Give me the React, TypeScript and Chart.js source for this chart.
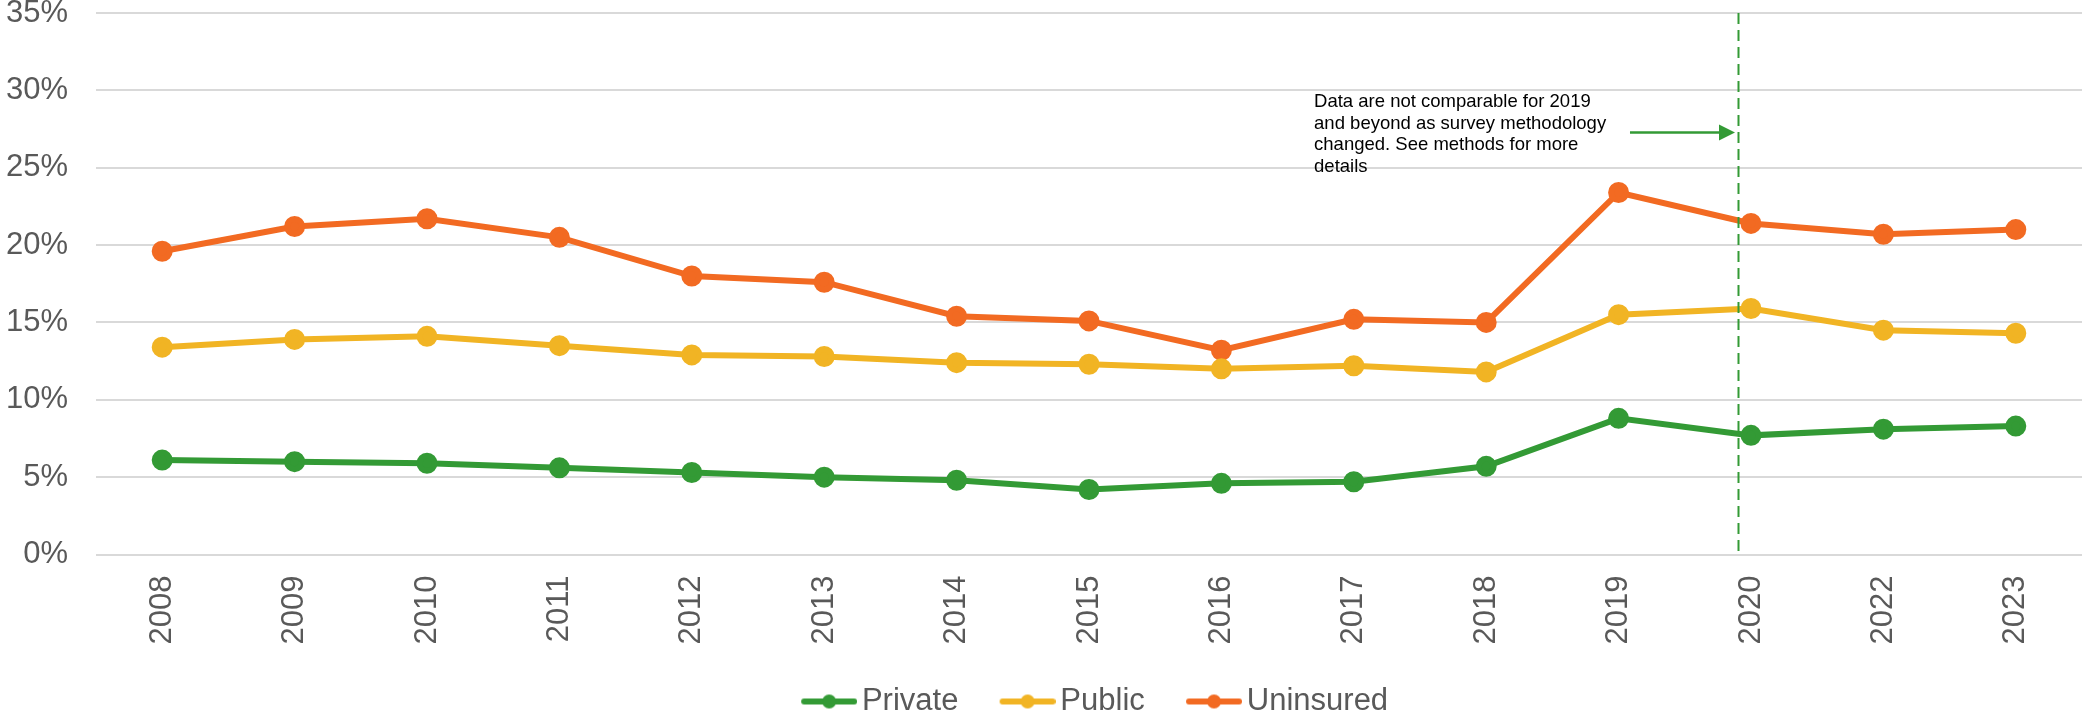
import React, { useEffect, useRef } from 'react';
import { Chart, registerables } from 'chart.js';

Chart.register(...registerables);

// ---------- data ----------
const years = ['2008', '2009', '2010', '2011', '2012', '2013', '2014', '2015', '2016', '2017', '2018', '2019', '2020', '2022', '2023'];
const privateRates = [6.1, 6.0, 5.9, 5.6, 5.3, 5.0, 4.8, 4.2, 4.6, 4.7, 5.7, 8.8, 7.7, 8.1, 8.3];
const publicRates = [13.4, 13.9, 14.1, 13.5, 12.9, 12.8, 12.4, 12.3, 12.0, 12.2, 11.8, 15.5, 15.9, 14.5, 14.3];
const uninsuredRates = [19.6, 21.2, 21.7, 20.5, 18.0, 17.6, 15.4, 15.1, 13.2, 15.2, 15.0, 23.4, 21.4, 20.7, 21.0];
const seriesNames = ['Private', 'Public', 'Uninsured'];
const seriesColors = ['#339A35', '#F1B424', '#F26A22'];
const yTickMin = 0;
const yTickMax = 35;
const yTickStep = 5;

// annotation (in category-index / percent units)
const noteLines = [
  'Data are not comparable for 2019',
  'and beyond as survey methodology',
  'changed. See methods for more',
  'details',
];
const noteX = 8.7;
const noteBaselines = [28.92, 27.53, 26.13, 24.74];
const breakX = 11.9;
const arrowFromX = 11.086;
const arrowToX = 11.879;
const arrowY = 27.28;

const FONT = '"Liberation Sans", Arial, Helvetica, sans-serif';
const GREY = '#595959';

function makeLegendMarker(color: string): HTMLCanvasElement {
  const c = document.createElement('canvas');
  c.width = 98;
  c.height = 18;
  const ctx = c.getContext('2d')!;
  ctx.strokeStyle = color;
  ctx.lineWidth = 6;
  ctx.lineCap = 'round';
  ctx.beginPath();
  ctx.moveTo(45, 9);
  ctx.lineTo(95, 9);
  ctx.stroke();
  ctx.fillStyle = color;
  ctx.beginPath();
  ctx.arc(70, 9, 7, 0, Math.PI * 2);
  ctx.fill();
  return c;
}

const annotationPlugin = {
  id: 'noteAnnotation',
  afterLayout(chart: any) {
    const lg = chart.legend;
    if (lg) {
      lg.left += 38;
      lg.right += 38;
      lg.top += 11;
      lg.bottom += 11;
    }
  },
  afterDatasetsDraw(chart: any) {
    const ctx = chart.ctx;
    const xs = chart.scales.x;
    const ys = chart.scales.y;
    const xAt = (v: number) => {
      const i = Math.floor(v);
      const a = xs.getPixelForValue(i);
      const b = xs.getPixelForValue(i + 1);
      return a + (v - i) * (b - a);
    };
    ctx.save();
    // dashed break line
    ctx.strokeStyle = '#339A35';
    ctx.lineWidth = 2;
    ctx.setLineDash([11, 6]);
    ctx.beginPath();
    const bx = Math.round(xAt(breakX)) + 0.5;
    ctx.moveTo(bx, ys.getPixelForValue(yTickMax));
    ctx.lineTo(bx, ys.getPixelForValue(yTickMin));
    ctx.stroke();
    ctx.setLineDash([]);
    // arrow
    const ax0 = xAt(arrowFromX);
    const ax1 = xAt(arrowToX);
    const ay = ys.getPixelForValue(arrowY);
    ctx.lineWidth = 2.5;
    ctx.beginPath();
    ctx.moveTo(ax0, ay);
    ctx.lineTo(ax1 - 12, ay);
    ctx.stroke();
    ctx.fillStyle = '#339A35';
    ctx.beginPath();
    ctx.moveTo(ax1, ay);
    ctx.lineTo(ax1 - 16, ay - 8);
    ctx.lineTo(ax1 - 16, ay + 8);
    ctx.closePath();
    ctx.fill();
    // text
    ctx.fillStyle = '#000000';
    ctx.font = '18.5px ' + FONT;
    ctx.textAlign = 'left';
    ctx.textBaseline = 'alphabetic';
    const tx = xAt(noteX);
    noteLines.forEach((t, i) => {
      ctx.fillText(t, tx, ys.getPixelForValue(noteBaselines[i]));
    });
    ctx.restore();
  },
};

export default function App() {
  const ref = useRef<HTMLCanvasElement | null>(null);

  useEffect(() => {
    document.body.style.margin = '0';
    const canvas = ref.current;
    if (!canvas) return;
    const markers = seriesColors.map(makeLegendMarker);
    const seriesData = [privateRates, publicRates, uninsuredRates];

    const chart = new Chart(canvas, {
      type: 'line',
      data: {
        labels: years,
        datasets: seriesNames.map((name, i) => ({
          label: name,
          data: seriesData[i],
          borderColor: seriesColors[i],
          backgroundColor: seriesColors[i],
          pointBackgroundColor: seriesColors[i],
          pointBorderColor: seriesColors[i],
          borderWidth: 6,
          pointRadius: 7.5,
          pointHoverRadius: 7.5,
          tension: 0,
          fill: false,
          clip: false,
        })),
      },
      options: {
        responsive: false,
        animation: false,
        devicePixelRatio: 1,
        events: [],
        layout: { autoPadding: false, padding: { left: 0, right: 3, top: 13, bottom: 0 } },
        scales: {
          x: {
            offset: true,
            border: { display: false },
            grid: { display: false, drawTicks: false },
            ticks: {
              autoSkip: false,
              minRotation: 90,
              maxRotation: 90,
              padding: 21,
              color: GREY,
              font: { family: FONT, size: 31 },
            },
            afterFit(scale: any) {
              scale.height = 110.5;
              scale.paddingLeft = 0;
              scale.paddingRight = 0;
            },
          },
          y: {
            min: yTickMin,
            max: yTickMax,
            border: { display: false },
            grid: { color: '#D9D9D9', lineWidth: 2, drawTicks: false },
            ticks: {
              stepSize: yTickStep,
              padding: 28,
              color: GREY,
              font: { family: FONT, size: 31 },
              callback: (v: any) => v + '%',
            },
            afterFit(scale: any) {
              scale.width = 96;
              scale.paddingTop = 0;
              scale.paddingBottom = 0;
            },
          },
        },
        plugins: {
          title: { display: false },
          tooltip: { enabled: false },
          legend: {
            display: true,
            position: 'bottom',
            labels: {
              usePointStyle: true,
              pointStyleWidth: 76.5,
              padding: 10,
              color: GREY,
              font: { family: FONT, size: 31 },
              generateLabels(ch: any) {
                const base = Chart.defaults.plugins.legend.labels.generateLabels(ch);
                return base.map((item: any, i: number) => ({ ...item, pointStyle: markers[i] }));
              },
            },
          },
        },
      },
      plugins: [annotationPlugin],
    } as any);

    return () => chart.destroy();
  }, []);

  return (
    <div style={{ position: 'fixed', left: 0, top: 0, width: 2085, height: 716, background: '#ffffff' }}>
      <canvas ref={ref} width={2085} height={716} style={{ display: 'block', width: 2085, height: 716 }} />
    </div>
  );
}
